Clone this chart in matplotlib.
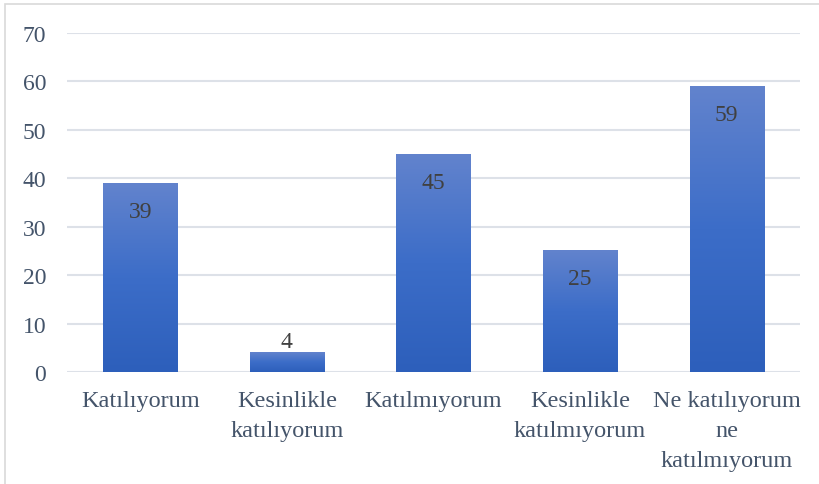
import numpy as np
import matplotlib.pyplot as plt
from matplotlib.colors import LinearSegmentedColormap
from matplotlib.patches import Rectangle

# survey answers and counts
categories = ['Katılıyorum', 'Kesinlikle\nkatılıyorum', 'Katılmıyorum',
              'Kesinlikle\nkatılmıyorum', 'Ne katılıyorum\nne\nkatılmıyorum']
counts = [39, 4, 45, 25, 59]
yticks = [0, 10, 20, 30, 40, 50, 60, 70]

plt.rcParams['font.family'] = 'serif'
plt.rcParams['font.serif'] = ['Liberation Serif', 'DejaVu Serif']

fig = plt.figure(figsize=(8.19, 4.85), dpi=100)
fig.patches.append(Rectangle((0.006, -0.01), 1.2, 1.0, transform=fig.transFigure,
                             fill=False, edgecolor='#d9d9d9', linewidth=1.2))
ax = fig.add_axes([0.0818, 0.2309, 0.895, 0.699])

x = np.arange(len(categories))
bars = ax.bar(x, counts, width=0.505, color='none', zorder=2)

# vertical gradient in each bar, lighter at the top
grad = LinearSegmentedColormap.from_list('bar', ['#2d5fbb', '#3c6dc8', '#6283cd'])
g = np.linspace(0, 1, 256).reshape(-1, 1)
for b in bars:
    x0, w, h = b.get_x(), b.get_width(), b.get_height()
    ax.imshow(g, cmap=grad, origin='lower', aspect='auto',
              extent=(x0, x0 + w, 0, h), zorder=2)

# value labels: inside the bar top, above it when the bar is too short
for xi, v in zip(x, counts):
    if v < 10:
        ax.text(xi, v + 0.1, str(v), ha='center', va='bottom', fontsize=17,
                color='#404040', zorder=3)
    else:
        ax.text(xi, v - 3.6, str(v), ha='center', va='top', fontsize=17,
                color='#404040', zorder=3)

ax.set_xlim(-0.5, len(categories) - 0.5)
ax.set_ylim(0, 70)
ax.set_yticks(yticks)
ax.set_xticks(x)
ax.set_xticklabels(categories, fontsize=17.5, color='#44546a', linespacing=1.55)
ax.tick_params(axis='y', labelsize=17, labelcolor='#44546a', length=0, pad=15)
ax.tick_params(axis='x', length=0, pad=13)
ax.grid(axis='y', color='#dde1e8', linewidth=1.5, zorder=0)
ax.set_axisbelow(True)
for s in ax.spines.values():
    s.set_visible(False)

plt.savefig('out.png', dpi=100)
